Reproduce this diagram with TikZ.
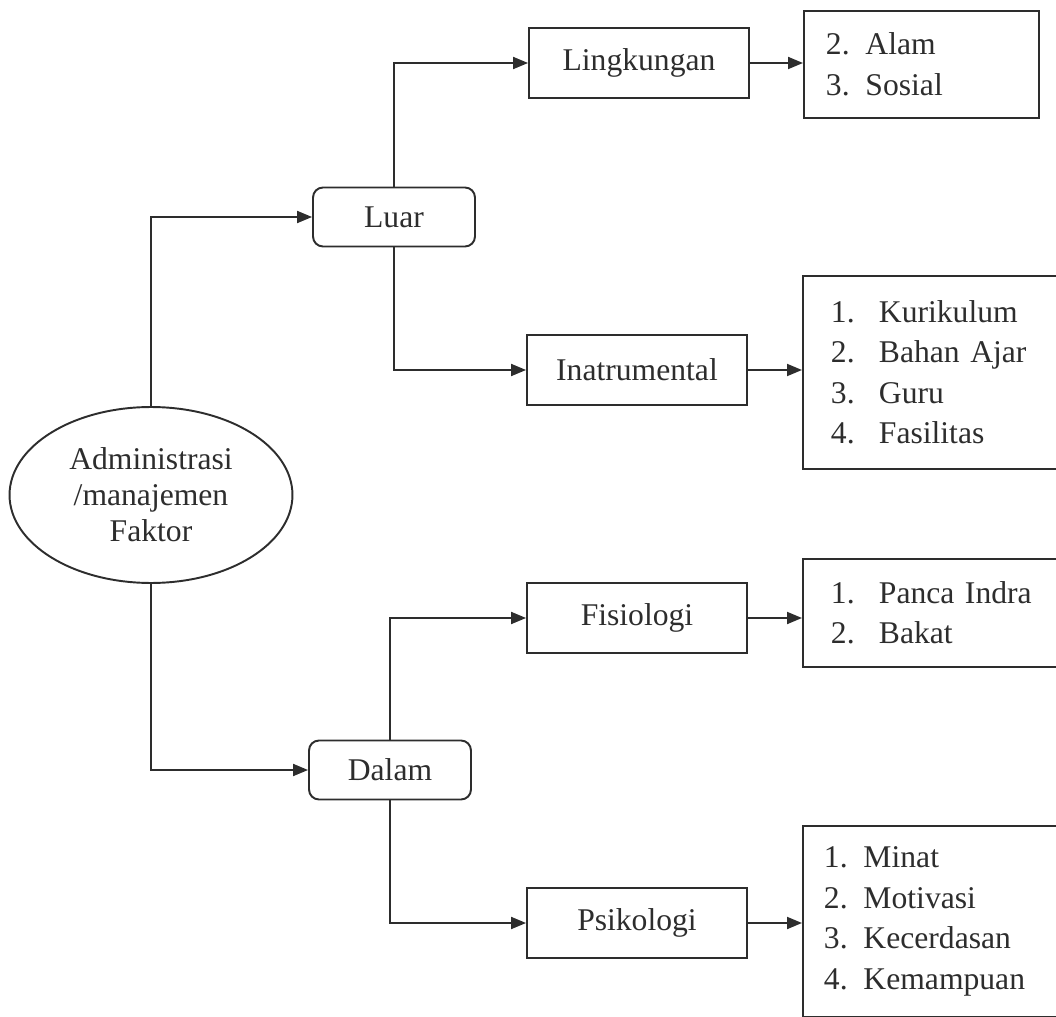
\documentclass[tikz,border=0pt]{standalone}
\usepackage{fontspec}
\setmainfont{Liberation Serif}
\usetikzlibrary{shapes.geometric,arrows.meta,positioning}
\definecolor{inkcolor}{RGB}{45,45,45}

\begin{document}
\begin{tikzpicture}[
    x=0.02cm, y=-0.02cm,
    every node/.style={font=\fontsize{18}{23}\selectfont, text=inkcolor},
    factor/.style={ellipse, draw=inkcolor, line width=1.1pt, minimum width=5.66cm, minimum height=3.52cm, align=center, inner sep=0pt, font=\fontsize{18}{20.5}\selectfont},
    group/.style={rectangle, rounded corners=0.2cm, draw=inkcolor, line width=1.1pt, minimum width=3.24cm, minimum height=1.18cm},
    aspect/.style={rectangle, draw=inkcolor, line width=1.1pt, minimum width=4.4cm, minimum height=1.4cm},
    items/.style={rectangle, draw=inkcolor, line width=1.1pt, anchor=north west, align=left, inner ysep=0pt},
    link/.style={-{Triangle[length=0.3cm,width=0.24cm]}, line width=1.1pt, draw=inkcolor}
]
    \path[use as bounding box, clip] (0,0) rectangle (1056,1017);

    % Main factor
    \node[factor] (faktor) at (151,495) {Administrasi\\/manajemen\\Faktor};

    % Outer / inner
    \node[group] (luar) at (394,217) {Luar};
    \node[group] (dalam) at (390,770) {Dalam};

    % Aspects
    \node[aspect] (lingkungan) at (639,63) {Lingkungan};
    \node[aspect] (instrumen) at (637,370) {Inatrumental};
    \node[aspect] (fisio) at (637,618) {Fisiologi};
    \node[aspect] (psiko) at (637,923) {Psikologi};

    % Item lists
    \node[items, minimum width=4.7cm, minimum height=2.14cm, text width=3.82cm, inner xsep=0.44cm] (list1) at (803,10)
        {2. Alam\\3. Sosial};
    \node[items, minimum width=6cm, minimum height=3.86cm, text width=4.88cm, inner xsep=0.56cm] (list2) at (802,275)
        {\makebox[0.96cm][l]{1.}Kurikulum\\\makebox[0.96cm][l]{2.}Bahan Ajar\\\makebox[0.96cm][l]{3.}Guru\\\makebox[0.96cm][l]{4.}Fasilitas};
    \node[items, minimum width=6cm, minimum height=2.16cm, text width=4.88cm, inner xsep=0.2cm] (list3) at (802,558)
        {\makebox[0.96cm][l]{1.}Panca Indra\\\makebox[0.96cm][l]{2.}Bakat};
    \node[items, minimum width=6cm, minimum height=3.82cm, text width=5.16cm, inner xsep=0.42cm] (list4) at (802,825)
        {1. Minat\\2. Motivasi\\3. Kecerdasan\\4. Kemampuan};

    % Connectors
    \draw[link] (faktor.north) |- (luar.west);
    \draw[link] (faktor.south) |- (dalam.west);
    \draw[link] (luar.north) |- (lingkungan.west);
    \draw[link] (luar.south) |- (instrumen.west);
    \draw[link] (dalam.north) |- (fisio.west);
    \draw[link] (dalam.south) |- (psiko.west);

    \draw[link] (lingkungan.east) -- (lingkungan.east -| list1.west);
    \draw[link] (instrumen.east) -- (instrumen.east -| list2.west);
    \draw[link] (fisio.east) -- (fisio.east -| list3.west);
    \draw[link] (psiko.east) -- (psiko.east -| list4.west);
\end{tikzpicture}
\end{document}
